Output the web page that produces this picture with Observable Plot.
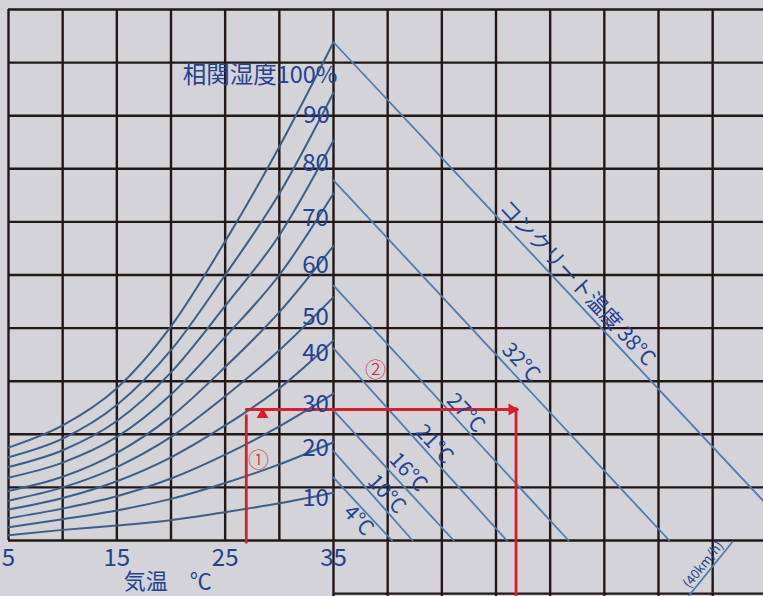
<!DOCTYPE html>
<html>
<head>
<meta charset="utf-8">
<script src="https://cdn.jsdelivr.net/npm/d3@7"></script>
<script src="https://cdn.jsdelivr.net/npm/@observablehq/plot@0.6"></script>
<style>
  html, body { margin: 0; padding: 0; background: #d3d3d8; overflow: hidden; }
  #chart svg { display: block; }
</style>
</head>
<body>
<div id="chart"></div>
<script>
// ---- data (air temperature °C vs. vapour-pressure-like value) ----
const airTemps = [5, 10, 15, 20, 25, 30, 35];
const rhLevels = [100, 90, 80, 70, 60, 50, 40, 30, 20, 10];
const rh100 = [1.05, 1.30, 1.72, 2.42, 3.38, 4.45, 5.63];
const rh90  = [0.94, 1.15, 1.53, 2.15, 3.00, 3.92, 5.06];
const rh80  = [0.83, 1.02, 1.35, 1.90, 2.65, 3.45, 4.52];
const rh70  = [0.71, 0.88, 1.17, 1.65, 2.30, 3.00, 3.92];
const rh60  = [0.56, 0.72, 0.99, 1.40, 1.96, 2.58, 3.33];
const rh50  = [0.45, 0.60, 0.83, 1.17, 1.63, 2.15, 2.75];
const rh40  = [0.35, 0.48, 0.67, 0.94, 1.30, 1.72, 2.26];
const rh30  = [0.25, 0.36, 0.50, 0.70, 0.97, 1.29, 1.66];
const rh20  = [0.15, 0.24, 0.34, 0.47, 0.65, 0.86, 1.11];
const rh10  = [0.06, 0.12, 0.17, 0.23, 0.32, 0.42, 0.54];
const rhSeries = [rh100, rh90, rh80, rh70, rh60, rh50, rh40, rh30, rh20, rh10];

// concrete temperature lines: start value at x = 35, x where they reach 0
const concreteTemps  = [38, 32, 27, 21, 16, 10, 4];
const concreteStartV = [5.63, 4.07, 2.88, 2.17, 1.47, 1.01, 0.71];
const concreteEndT   = [78.1, 66.0, 56.7, 51.0, 46.1, 42.3, 40.4];

// wind speed line (lower quadrant)
const windLabel = "(40km/h)";
const windT = [71.8, 67.3];
const windV = [-0.02, -0.70];

// example route (red)
const exampleAirT = 26.95;
const exampleV = 1.48;
const exampleTurnT = 51.85;

// tick labels & grid
const xTickLabels = [5, 15, 25, 35];
const gridXLeft  = [5, 10, 15, 20, 25, 30];
const gridXRight = [35, 40, 45, 50, 55, 60, 65, 70];
const gridY = [0, 0.6, 1.2, 1.8, 2.4, 3.0, 3.6, 4.2, 4.8, 5.4, 6.0];
const gridYLower = [-0.6];

// ---- derived tables ----
const rhData = rhSeries.flatMap((vals, i) =>
  vals.map((v, j) => ({rh: rhLevels[i], T: airTemps[j], v})));
const concData = concreteTemps.flatMap((tc, i) => [
  {tc, T: 35, v: concreteStartV[i]},
  {tc, T: concreteEndT[i], v: 0}
]);
const concAt = (i, T) => concreteStartV[i] * (1 - (T - 35) / (concreteEndT[i] - 35));

const rhLabels = [
  {text: "90", T: 33.43, v: 4.80}, {text: "80", T: 33.34, v: 4.26},
  {text: "70", T: 33.34, v: 3.64}, {text: "60", T: 33.34, v: 3.11},
  {text: "50", T: 33.34, v: 2.52}, {text: "40", T: 33.34, v: 2.12},
  {text: "30", T: 33.34, v: 1.54}, {text: "20", T: 33.34, v: 1.04},
  {text: "10", T: 33.34, v: 0.475}
];
const concLabelText = ["コンクリート温度 38°C", "32°C", "27°C", "21°C", "16°C", "10°C", "4°C"];
const concLabelT = [57.5, 52.3, 47.2, 44.3, 41.9, 39.9, 37.3];
const concLabelDy = [-19, -19, -16, -16, -19, -17, 16];
const concLabels = concreteTemps.map((tc, i) => ({
  text: concLabelText[i], T: concLabelT[i], v: concAt(i, concLabelT[i]), dy: concLabelDy[i]
}));

const gridColor = "#231815";
const curveColor = "#3b5f8c";
const lineColor = "#4c7db8";
const textBlue = "#1f4395";
const red = "#d91e2a";
const font = "'Noto Sans CJK JP', 'Noto Sans', sans-serif";

const chart = Plot.plot({
  width: 763,
  height: 596,
  margin: 0,
  x: {domain: [4.2615, 74.6925], axis: null},
  y: {domain: [-0.6328, 6.1017], axis: null},
  style: {background: "#d3d3d8", fontFamily: font},
  marks: [
    // grid
    Plot.ruleX(gridXLeft, {x: d => d, y1: 0, y2: 6.0, stroke: gridColor, strokeWidth: 2.4}),
    Plot.ruleX(gridXRight, {x: d => d, y1: -0.75, y2: 6.0, stroke: gridColor, strokeWidth: 2.4}),
    Plot.ruleY(gridY, {y: d => d, x1: 5, x2: 76, stroke: gridColor, strokeWidth: 2.4}),
    Plot.ruleY(gridYLower, {y: d => d, x1: 35, x2: 76, stroke: gridColor, strokeWidth: 2.4}),
    // relative humidity curves
    Plot.line(rhData, {x: "T", y: "v", z: "rh", curve: "monotone-x", stroke: curveColor, strokeWidth: 2}),
    // concrete temperature lines
    Plot.line(concData, {x: "T", y: "v", z: "tc", stroke: lineColor, strokeWidth: 1.8}),
    // wind speed line
    Plot.line(windT.map((T, i) => ({T, v: windV[i]})), {x: "T", y: "v", stroke: lineColor, strokeWidth: 1.8}),
    // red example route
    Plot.line([{T: exampleAirT, v: -0.02}, {T: exampleAirT, v: exampleV - 0.07}], {x: "T", y: "v", stroke: red, strokeWidth: 2.8}),
    Plot.line([{T: exampleAirT, v: exampleV}, {T: exampleTurnT + 0.1, v: exampleV}], {x: "T", y: "v", stroke: red, strokeWidth: 2.8}),
    Plot.line([{T: exampleTurnT, v: exampleV + 0.01}, {T: exampleTurnT, v: -0.8}], {x: "T", y: "v", stroke: red, strokeWidth: 2.8}),
    Plot.dot([{T: exampleTurnT - 0.38, v: exampleV}], {x: "T", y: "v", symbol: "triangle", r: 4.4, rotate: 90, fill: red, stroke: "none"}),
    Plot.dot([{T: 28.45, v: 1.424}], {x: "T", y: "v", symbol: "triangle", r: 4.4, fill: red, stroke: "none"}),
    Plot.text([{t: "①", T: 28.08, v: 0.904}, {t: "②", T: 38.88, v: 1.921}], {x: "T", y: "v", text: "t", fill: red, fontSize: 21, fontWeight: 300}),
    // labels
    Plot.text(rhLabels, {x: "T", y: "v", text: "text", fill: textBlue, fontSize: 24}),
    Plot.text([{t: "相関湿度100%", T: 35.37, v: 5.254}], {x: "T", y: "v", text: "t", textAnchor: "end", fill: textBlue, fontSize: 23.5}),
    ...concLabels.map(d => Plot.text([d], {x: "T", y: "v", text: "text", dy: d.dy, rotate: 47, fill: textBlue, fontSize: 21})),
    Plot.text([{t: windLabel, T: 70.75, v: -0.03}], {x: "T", y: "v", text: "t", textAnchor: "end", rotate: -51, fill: textBlue, fontSize: 13}),
    Plot.text(xTickLabels, {x: d => d, y: -0.203, text: d => String(d), fill: textBlue, fontSize: 24}),
    Plot.text([{t: "気温　℃", T: 19.7, v: -0.465}], {x: "T", y: "v", text: "t", fill: textBlue, fontSize: 22})
  ]
});
document.getElementById("chart").append(chart);
</script>
</body>
</html>
